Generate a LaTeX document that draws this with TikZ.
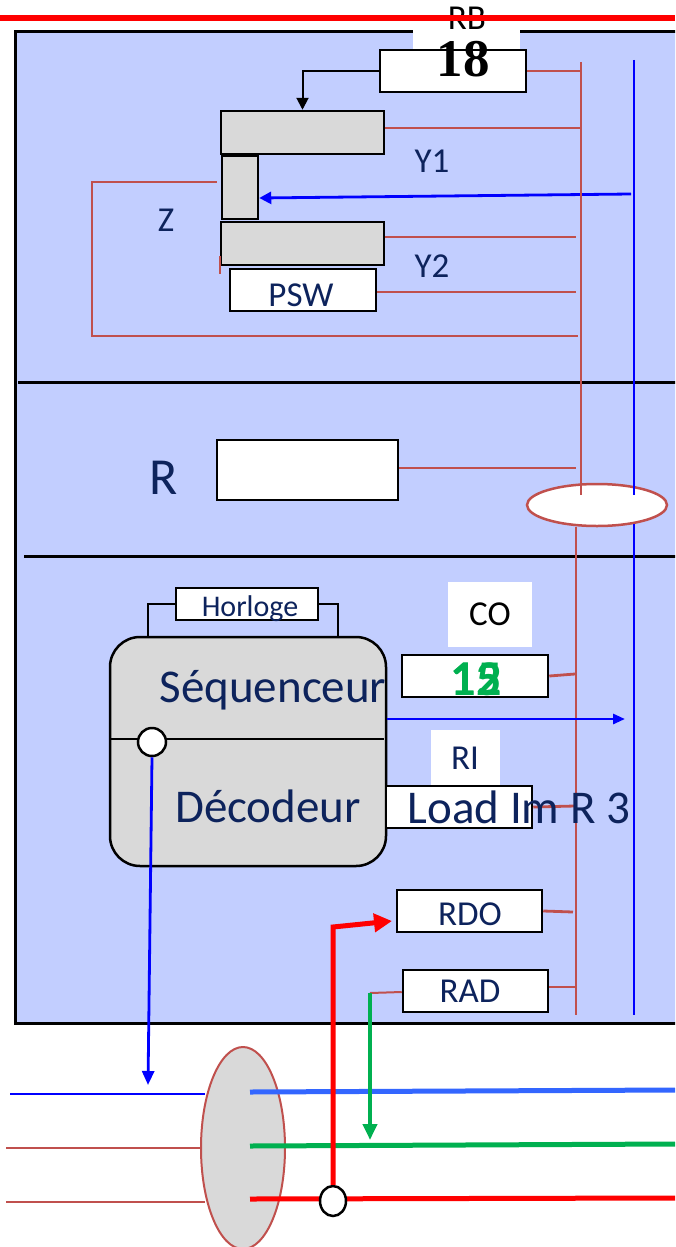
\documentclass[tikz,border=0pt]{standalone}
\usepackage{fontspec}
\setsansfont{Carlito}
\setmainfont{Liberation Serif}
\usetikzlibrary{arrows.meta,shapes.geometric}
\definecolor{panel}{RGB}{194,206,255}
\definecolor{brick}{RGB}{192,80,77}
\definecolor{navy}{RGB}{13,35,92}
\definecolor{grayf}{RGB}{217,217,217}
\definecolor{gbus}{RGB}{0,176,80}
\definecolor{bbus}{RGB}{51,102,255}
\begin{document}
\begin{tikzpicture}[x=1pt,y=-1pt,
 box/.style={draw=black, line width=2.5pt, fill=white, inner sep=0pt, rectangle},
 gbox/.style={box, fill=grayf},
 rl/.style={draw=brick, line width=2.8pt},
 bl/.style={draw=blue, line width=2.8pt},
 lbl/.style={text=navy, font=\sffamily\fontsize{35}{40}\selectfont, anchor=base, inner sep=0pt},
 big/.style={lbl, font=\sffamily\fontsize{47}{52}\selectfont},
 patch/.style={fill=white, draw=none, inner sep=0pt, rectangle}
]
\useasboundingbox (0,0) rectangle (675,1247);
\clip (0,0) rectangle (675,1247);
% panel
\fill[panel] (15,32) rectangle (690,1023);
\draw[line width=3pt] (15,32) rectangle (690,1023);
\draw[line width=3pt] (18,382) -- (690,382);
\draw[line width=3pt] (24,556) -- (690,556);
% RB
\node[patch, minimum width=107, minimum height=50] (rbp) at (466.5,24) {};
\node[lbl, text=black] (rbt) at (467,30) {RB};
\draw[red, line width=5.5pt] (0,18) -- (675,18);
\node[box, minimum width=146, minimum height=42] (rb18) at (453,71) {};
\node[anchor=base, inner sep=0pt, font=\rmfamily\bfseries\fontsize{53}{58}\selectfont] (n18) at (463,77) {18};
% registers top
\node[gbox, minimum width=163, minimum height=43] (y1) at (302.5,132.5) {};
\node[gbox, minimum width=36, minimum height=63] (z) at (240,187.5) {};
\node[gbox, minimum width=163, minimum height=43] (y2) at (302.5,243.5) {};
\node[box, minimum width=146, minimum height=42] (psw) at (303,290) {};
\node[lbl] (pswt) at (301,306) {PSW};
\node[lbl] (y1t) at (432,172) {Y1};
\node[lbl] (y2t) at (432,277) {Y2};
\node[lbl] (zt) at (166,231) {Z};
\coordinate (rbT) at (581,62);
\coordinate (rbM) at (581,495);
\coordinate (bbT) at (634,60);
\coordinate (bbM) at (634,495);
\draw[line width=2pt, -{Triangle[length=12pt,width=12pt]}] (rb18.west) -| (y1.north);
\draw[rl] (rb18.east) -- (rb18.east -| rbT);
\draw[rl] ([yshift=4.5pt]y1.east) -- ++(196,0);
\draw[rl] ([yshift=6.5pt]y2.east) -- ++(191,0);
\draw[rl] ([yshift=-2pt]psw.east) -- ++(199,0);
\draw[rl] ([xshift=-4pt,yshift=5.5pt]z.west) -- (92,182) -- (92,336) -- (578,336);
\draw[rl] (220,256) -- (220,274);
\draw[bl, -{Triangle[length=12pt,width=12pt]}] (631,194) -- ([yshift=-10.5pt]z.east);
% R
\node[lbl, font=\sffamily\fontsize{52}{58}\selectfont] (rt) at (164,494) {R};
\node[box, minimum width=181, minimum height=60] (rbox) at (307.5,470) {};
\draw[rl] ([yshift=2pt]rbox.east) -- (576,468);
% bus ellipse
\node[draw=brick, line width=2.5pt, fill=white, ellipse, minimum width=140, minimum height=42, inner sep=0pt] (ell) at (597,505) {};
\draw[rl] (rbT) -- (rbM);
\draw[bl] (bbT) -- (bbM);
\coordinate (rbB) at (576,1015);
\coordinate (bbB) at (634,1015);
\draw[rl] (ell.south -| rbB) -- (rbB);
\draw[bl] (634,524) -- (bbB);
% Horloge + sequenceur
\node[box, minimum width=142, minimum height=32] (hor) at (247,604) {};
\node[lbl, font=\sffamily\fontsize{30}{34}\selectfont] (hort) at (250,616) {Horloge};
\draw[line width=2.5pt] (hor.west) -- (148,604) -- (148,637);
\draw[line width=2.5pt] (hor.east) -- (338,604) -- (338,637);
\node[draw, line width=2.5pt, fill=grayf, rounded corners=30pt, minimum width=276, minimum height=229, inner sep=0pt] (sd) at (248,751.5) {};
\draw[line width=2.5pt] (110,739) -- (384,739);
\node[big] (seqt) at (273,702) {Séquenceur};
\node[big] (dect) at (268,822) {Décodeur};
\node[circle, draw, line width=2.5pt, fill=white, minimum size=28, inner sep=0pt] (cir) at (152,742) {};
% CO
\node[patch, minimum width=84, minimum height=65] (cop) at (490,614.5) {};
\node[lbl, text=black] (cot) at (490,625) {CO};
\node[box, minimum width=146, minimum height=42] (co) at (475,676) {};
\node[anchor=base, inner sep=0pt, text=gbus, font=\sffamily\bfseries\fontsize{50}{56}\selectfont] (c12) at (476,695) {12};
\node[anchor=base, inner sep=0pt, text=gbus, font=\sffamily\bfseries\fontsize{50}{56}\selectfont] (c15) at (476,695) {15};
\draw[rl] (co.east) -- (575,674);
\draw[bl, -{Triangle[length=12pt,width=10pt]}] ([yshift=32.5pt]sd.east) -- (625,719);
% RI
\node[patch, minimum width=69, minimum height=55] (rip) at (465.5,757.5) {};
\node[lbl] (rit) at (465,769) {RI};
\node[box, minimum width=146, minimum height=42] (ri) at (459,807) {};
\draw[rl] (ri.east) -- (575,806);
% RDO RAD
\node[box, minimum width=145, minimum height=42] (rdo) at (469.5,911) {};
\node[lbl] (rdot) at (470,925) {RDO};
\draw[rl] (rdo.east) -- (573,912);
\node[box, minimum width=145, minimum height=42] (rad) at (475.5,991) {};
\node[lbl] (radt) at (470,1002) {RAD};
\draw[rl] ([yshift=4pt]rad.east) -- (575,987);
\draw[brick, line width=2pt] ([yshift=-1pt]rad.west) -- (370,993);
% bottom buses
\draw[blue, line width=2pt] (10,1094) -- (205,1094);
\draw[brick, line width=2pt] (6,1148) -- (200,1148);
\draw[brick, line width=2pt] (6,1202) -- (205,1202);
\node[ellipse, draw=brick, line width=2pt, fill=grayf, minimum width=84, minimum height=202, inner sep=0pt] (bell) at (243,1148) {};
\draw[bbus, line width=5pt] (250,1092) -- (675,1090);
\draw[gbus, line width=5pt] (250,1146) -- (675,1144);
\draw[red, line width=5pt] (250,1199) -- (675,1198);
\node[ellipse, draw, line width=2.5pt, fill=white, minimum width=26, minimum height=30, inner sep=0pt] (bc) at (333,1201) {};
\draw[gbus, line width=4pt, -{Triangle[length=16pt,width=14pt]}] (370,993) -- (370,1140);
\draw[red, line width=5pt, -{Triangle[length=18pt,width=18pt]}] (bc.north) -- (333,927) -- (392,921);
\draw[bl, -{Triangle[length=14pt,width=12pt]}] (cir.south) -- (148,1085);
% overflowing text
\node[big] (lt) at (519,823) {Load Im R 3};
\end{tikzpicture}
\end{document}
